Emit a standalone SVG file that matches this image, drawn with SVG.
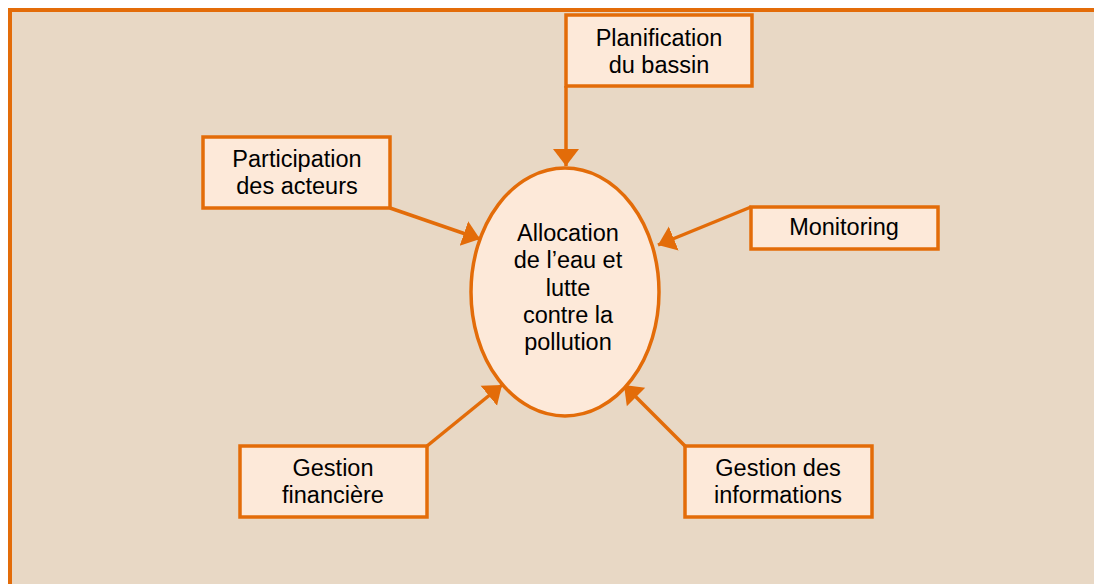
<svg xmlns="http://www.w3.org/2000/svg" width="1094" height="584" viewBox="0 0 1094 584">
  <defs>
    <marker id="arrow" markerUnits="userSpaceOnUse" markerWidth="18" markerHeight="28" viewBox="0 0 18 28" refX="17" refY="14" orient="auto">
      <path d="M0,1 L17,14 L0,27 Z" fill="#E36C09"/>
    </marker>
    <style>
      .page { fill: #E8D8C5; }
      .frame-edge { fill: none; stroke: #E36C09; stroke-width: 4; }
      .box { fill: #FDE9D9; stroke: #E36C09; stroke-width: 3.5; }
      .label { font-family: "Liberation Sans", Arial, sans-serif; font-size: 23.5px; fill: #000; text-anchor: middle; }
      .link { stroke: #E36C09; stroke-width: 3.5; fill: none; marker-end: url(#arrow); }
    </style>
  </defs>

  <!-- page background; the frame continues past the right and bottom edges -->
  <rect class="page" x="10" y="10" width="1084" height="574"/>
  <path class="frame-edge" d="M10,584 L10,10 L1094,10"/>

  <!-- connectors -->
  <g id="connectors">
    <line class="link" x1="566" y1="86" x2="566" y2="166"/>
    <line class="link" x1="390" y1="208" x2="480" y2="239"/>
    <line class="link" x1="751" y1="207" x2="658" y2="245"/>
    <line class="link" x1="427" y1="446" x2="502" y2="385"/>
    <line class="link" x1="685" y1="446" x2="624" y2="385"/>
  </g>

  <!-- central node -->
  <g id="allocation">
    <ellipse class="box" cx="565" cy="292" rx="94" ry="124"/>
    <text class="label" x="568" y="241">Allocation</text>
    <text class="label" x="568" y="268">de l’eau et</text>
    <text class="label" x="568" y="296">lutte</text>
    <text class="label" x="568" y="323">contre la</text>
    <text class="label" x="568" y="350">pollution</text>
  </g>

  <g id="planification">
    <rect class="box" x="566" y="15" width="186" height="71"/>
    <text class="label" x="659" y="46">Planification</text>
    <text class="label" x="659" y="73">du bassin</text>
  </g>

  <g id="participation">
    <rect class="box" x="203" y="137" width="187" height="71"/>
    <text class="label" x="297" y="167">Participation</text>
    <text class="label" x="297" y="194">des acteurs</text>
  </g>

  <g id="monitoring">
    <rect class="box" x="751" y="207" width="187" height="42"/>
    <text class="label" x="844" y="235">Monitoring</text>
  </g>

  <g id="gestion-financiere">
    <rect class="box" x="240" y="446" width="187" height="71"/>
    <text class="label" x="333" y="476">Gestion</text>
    <text class="label" x="333" y="503">financière</text>
  </g>

  <g id="gestion-informations">
    <rect class="box" x="685" y="446" width="187" height="71"/>
    <text class="label" x="778" y="476">Gestion des</text>
    <text class="label" x="778" y="503">informations</text>
  </g>
</svg>
